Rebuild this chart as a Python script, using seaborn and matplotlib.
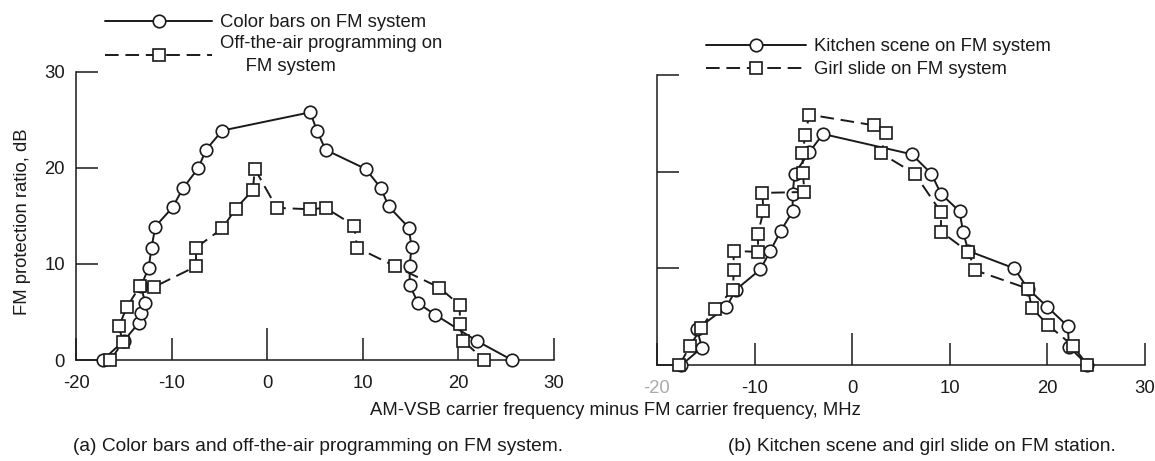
import matplotlib
matplotlib.use("Agg")
import matplotlib.pyplot as plt
import seaborn as sns

# ---------------- data ----------------
# (a) Color bars on FM system (circles, solid)
color_bars_x = [-17.2, -15.0, -13.4, -13.2, -12.75, -13.2, -12.4, -12.1, -11.7, -9.9, -8.8, -7.2,
                -6.4, -4.7, 4.5, 5.2, 6.1, 10.3, 11.9, 12.7, 14.8, 15.1, 14.9, 14.9, 15.8,
                17.6, 21.9, 25.6]
color_bars_y = [0.0, 2.0, 3.9, 4.9, 5.9, 7.7, 9.6, 11.7, 13.9, 15.9, 17.9, 20.0,
                21.9, 23.9, 25.8, 23.9, 21.9, 19.9, 17.9, 16.0, 13.8, 11.8, 9.8, 7.8, 5.9,
                4.7, 2.0, 0.0]
# (a) Off-the-air programming on FM system (squares, dashed)
off_air_x = [-16.4, -15.1, -15.5, -14.7, -13.3, -11.85, -7.45, -7.45, -4.7, -3.3, -1.5, -1.3,
             1.0, 4.5, 6.1, 9.1, 9.4, 13.4, 18.0, 20.15, 20.15, 20.5, 22.7]
off_air_y = [0.0, 1.85, 3.5, 5.5, 7.7, 7.6, 9.75, 11.7, 13.7, 15.75, 17.7, 19.9,
             15.85, 15.7, 15.85, 14.0, 11.7, 9.75, 7.55, 5.7, 3.8, 2.0, 0.0]
# (b) Kitchen scene on FM system (circles, solid)
kitchen_x = [-17.5, -15.4, -15.9, -12.9, -11.9, -9.4, -8.4, -7.3, -6.1, -6.1, -5.9, -4.4,
             -3.0, 6.1, 8.1, 9.1, 11.0, 11.35, 11.9, 16.6, 18.0, 20.0, 22.1, 22.2, 24.1]
kitchen_y = [0.0, 1.8, 3.7, 6.0, 7.8, 9.9, 11.8, 13.9, 15.9, 17.7, 19.8, 22.0,
             23.9, 21.8, 19.8, 17.7, 15.9, 13.8, 11.8, 10.0, 7.9, 6.0, 4.0, 1.9, 0.0]
# (b) Girl slide on FM system (squares, dashed)
girl_x = [-17.7, -16.6, -15.5, -14.1, -12.2, -12.15, -12.15, -9.65, -9.65, -9.1, -9.2, -4.9,
          -5.05, -5.1, -4.8, -4.4, 2.2, 3.5, 2.95, 6.4, 9.1, 9.1, 11.9, 12.6, 18.0,
          18.4, 20.1, 22.6, 24.1]
girl_y = [0.0, 2.0, 3.8, 5.8, 7.8, 9.8, 11.8, 11.7, 13.6, 15.9, 17.8, 17.9,
          19.9, 21.9, 23.8, 25.9, 24.8, 24.0, 21.9, 19.8, 15.8, 13.8, 11.7, 9.8, 7.9,
          5.9, 4.1, 2.0, 0.0]

x_ticks = [-20, -10, 0, 10, 20, 30]
y_ticks = [0, 10, 20, 30]

legend_a = ["Color bars on FM system", "Off-the-air programming on\n     FM system"]
legend_b = ["Kitchen scene on FM system", "Girl slide on FM system"]
x_label = "AM-VSB carrier frequency minus FM carrier frequency, MHz"
y_label = "FM protection ratio, dB"
caption_a = "(a) Color bars and off-the-air programming on FM system."
caption_b = "(b) Kitchen scene and girl slide on FM station."

# ---------------- style ----------------
sns.set_theme(style="ticks")
plt.rcParams["font.family"] = ["Liberation Sans", "DejaVu Sans"]
plt.rcParams["axes.unicode_minus"] = False
FS = 13.3
INK = "#1a1a1a"

fig = plt.figure(figsize=(11.55, 4.61), dpi=100)
ax_a = fig.add_axes([76 / 1155, (461 - 360) / 461, 478 / 1155, 288 / 461])
ax_b = fig.add_axes([657 / 1155, (461 - 365) / 461, 488 / 1155, 290 / 461])

common = dict(color=INK, linewidth=1.4, markerfacecolor="white", markeredgecolor=INK,
              markeredgewidth=1.2, clip_on=False, sort=False, estimator=None, zorder=5)
dash = (0, (7, 3.5))


def draw(ax, xs1, ys1, xs2, ys2):
    sns.lineplot(x=xs1, y=ys1, ax=ax, marker="o", markersize=9, linestyle="-", **common)
    sns.lineplot(x=xs2, y=ys2, ax=ax, marker="s", markersize=9.3, linestyle=dash, **common)
    ax.set_xlim(-20, 30)
    ax.set_ylim(0, 30)
    ax.set_xticks(x_ticks)
    ax.set_yticks(y_ticks)
    sns.despine(ax=ax)
    for s in ("left", "bottom"):
        ax.spines[s].set_linewidth(1.1)
        ax.spines[s].set_color(INK)
    ax.tick_params(direction="in", length=16, width=1.1, color=INK, labelsize=FS,
                   labelcolor=INK)
    ax.tick_params(axis="x", pad=11)
    ax.tick_params(axis="y", pad=8)
    ax.xaxis.get_major_ticks()[2].tick1line.set_markersize(23)
    ax.set_xlabel("")
    ax.set_ylabel("")
    ax.patch.set_alpha(0)


draw(ax_a, color_bars_x, color_bars_y, off_air_x, off_air_y)
draw(ax_b, kitchen_x, kitchen_y, girl_x, girl_y)
ax_b.set_yticklabels([])
ax_b.get_xticklabels()[0].set_color("#aaaaaa")

ax_a.set_ylabel(y_label, fontsize=FS, color=INK)
ax_a.yaxis.set_label_coords(-0.094, 0.48)

leg_kw = dict(frameon=False, fontsize=FS, handletextpad=0.45,
              numpoints=1, borderpad=0, borderaxespad=0,
              loc="upper left", bbox_transform=fig.transFigure)
la = ax_a.legend(handles=ax_a.lines[:2], labels=legend_a, handlelength=5.8,
                 labelspacing=0.2, bbox_to_anchor=(105 / 1155, 1 - 14 / 461), **leg_kw)
lb = ax_b.legend(handles=ax_b.lines[:2], labels=legend_b, handlelength=5.4,
                 labelspacing=0.35, bbox_to_anchor=(706 / 1155, 1 - 38 / 461), **leg_kw)
for lg in (la, lb):
    for t in lg.get_texts():
        t.set_color(INK)
        t.set_linespacing(1.5)

fig.text(615 / 1155, 1 - 410 / 461, x_label, ha="center", va="center", fontsize=FS, color=INK)
fig.text(318 / 1155, 1 - 446 / 461, caption_a, ha="center", va="center", fontsize=13.8, color=INK)
fig.text(922 / 1155, 1 - 446 / 461, caption_b, ha="center", va="center", fontsize=13.8, color=INK)

fig.savefig("out.png", dpi=100, facecolor="white")
